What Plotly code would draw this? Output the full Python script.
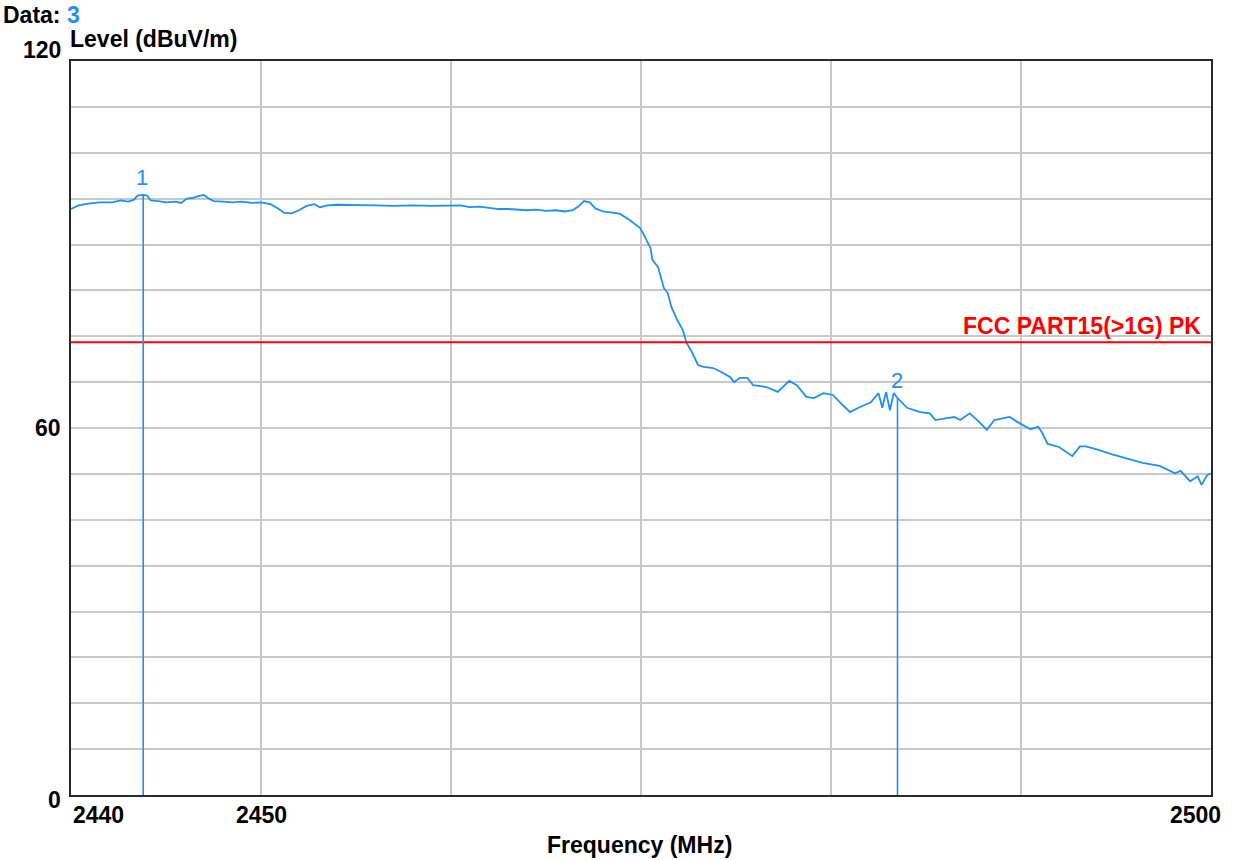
import plotly.graph_objects as go

# Measured spectrum (MHz, dBuV/m)
freq_mhz = [
    2440.0, 2440.4, 2440.9, 2441.5, 2442.2, 2442.6, 2443.0, 2443.3, 2443.5, 2443.8,
    2444.0, 2444.2, 2444.6, 2445.0, 2445.5, 2445.8, 2446.1, 2446.4, 2446.7, 2447.0,
    2447.2, 2447.5, 2448.0, 2448.5, 2449.0, 2449.5, 2450.0, 2450.5, 2450.9, 2451.2,
    2451.6, 2452.0, 2452.4, 2452.8, 2453.1, 2453.5, 2454.0, 2455.0, 2456.0, 2457.0,
    2458.0, 2459.0, 2460.0, 2460.5, 2461.0, 2461.5, 2462.0, 2462.5, 2463.0, 2463.5,
    2464.0, 2464.5, 2465.0, 2465.5, 2466.0, 2466.4, 2466.7, 2467.0, 2467.3, 2467.6,
    2468.0, 2468.5, 2468.9, 2469.4, 2469.95, 2470.1, 2470.5, 2470.6, 2470.9, 2471.2,
    2471.4, 2471.6, 2471.9, 2472.2, 2472.4, 2472.7, 2473.0, 2473.3, 2473.8, 2474.2,
    2474.5, 2474.7, 2474.9, 2475.2, 2475.6, 2475.9, 2476.6, 2477.2, 2477.8, 2478.2,
    2478.7, 2479.1, 2479.6, 2480.1, 2480.6, 2481.0, 2481.5, 2482.1, 2482.5, 2482.7,
    2482.9, 2483.1, 2483.3, 2483.5, 2484.0, 2484.7, 2485.2, 2485.5, 2486.1, 2486.5,
    2486.8, 2487.3, 2487.7, 2488.2, 2488.6, 2489.4, 2489.8, 2490.5, 2490.9, 2491.1,
    2491.4, 2492.0, 2492.7, 2493.1, 2493.4, 2493.9, 2494.8, 2495.7, 2496.4, 2497.3,
    2498.1, 2498.4, 2498.9, 2499.3, 2499.5, 2499.8, 2500.0,
]
level_dbuv = [
    95.8, 96.4, 96.7, 96.9, 96.9, 97.2, 97.0, 97.3, 98.0, 98.1,
    98.0, 97.2, 97.1, 96.9, 97.0, 96.8, 97.5, 97.6, 97.9, 98.1,
    97.6, 97.1, 97.0, 96.9, 97.0, 96.8, 96.9, 96.6, 95.9, 95.2,
    95.1, 95.6, 96.3, 96.6, 96.1, 96.4, 96.5, 96.5, 96.4, 96.3,
    96.4, 96.3, 96.3, 96.4, 96.1, 96.2, 96.0, 95.8, 95.8, 95.7,
    95.6, 95.7, 95.5, 95.6, 95.4, 95.6, 96.2, 97.1, 96.9, 95.9,
    95.4, 95.2, 95.0, 94.0, 92.7, 91.9, 89.4, 87.5, 86.3, 82.9,
    82.1, 79.8, 77.7, 76.0, 73.9, 72.3, 70.3, 70.0, 69.8, 69.2,
    68.7, 68.3, 67.5, 68.2, 68.2, 67.0, 66.7, 65.9, 67.7, 67.0,
    65.1, 64.9, 65.7, 65.4, 63.8, 62.6, 63.4, 64.2, 65.7, 63.3,
    65.9, 62.9, 65.7, 64.9, 63.3, 62.6, 62.4, 61.3, 61.6, 61.8,
    61.3, 62.4, 61.3, 59.7, 61.3, 61.8, 61.0, 59.8, 60.2, 59.3,
    57.4, 56.9, 55.4, 57.0, 57.0, 56.6, 55.7, 54.9, 54.3, 53.8,
    52.6, 53.0, 51.3, 52.1, 50.7, 52.3, 52.6,
]

# Limit line
limit_name = "FCC PART15(>1G) PK"
limit_level = 74.0

# Peak markers
marker_ids = ["1", "2"]
marker_freq = [2443.8, 2483.5]
marker_level = [98.1, 64.9]

# Axis labels
x_tick_vals = [2440, 2450, 2500]
y_tick_vals = [0, 60, 120]

TRACE_BLUE = "#1e8fff"
FONT = "Liberation Sans"
TEXT_SIZE = 23

fig = go.Figure()

fig.add_trace(go.Scatter(
    x=freq_mhz, y=level_dbuv, mode="lines",
    line=dict(color=TRACE_BLUE, width=1.8), hoverinfo="skip",
))

fig.add_trace(go.Scatter(
    x=[2440, 2500], y=[limit_level, limit_level], mode="lines",
    line=dict(color="#ff0000", width=2), hoverinfo="skip",
))

for mid, mf, ml in zip(marker_ids, marker_freq, marker_level):
    fig.add_trace(go.Scatter(
        x=[mf, mf], y=[0, ml], mode="lines",
        line=dict(color=TRACE_BLUE, width=1.6), hoverinfo="skip",
    ))
    fig.add_annotation(
        x=mf, y=ml, text=mid, showarrow=False, xanchor="center", yanchor="bottom",
        xshift=-1, yshift=3, font=dict(family=FONT, size=22, color=TRACE_BLUE),
    )

fig.add_annotation(
    x=2500, y=limit_level, text=f"<b>{limit_name}</b>", showarrow=False,
    xanchor="right", yanchor="bottom", xshift=-8, yshift=1,
    font=dict(family=FONT, size=TEXT_SIZE, color="#ff0000"),
)

# Tick labels
bold_font = dict(family=FONT, size=TEXT_SIZE, color="#000000")
x_anchor = {2440: ("left", 0), 2450: ("center", 0), 2500: ("right", 12)}
for v in x_tick_vals:
    anc, sh = x_anchor[v]
    fig.add_annotation(
        x=v, y=0, yref="y", text=f"<b>{v}</b>", showarrow=False,
        xanchor=anc, yanchor="top", xshift=sh, yshift=-5, font=bold_font,
    )
y_shift = {0: -5, 60: 0, 120: 11}
for v in y_tick_vals:
    fig.add_annotation(
        x=0, xref="paper", y=v, text=f"<b>{v}</b>", showarrow=False,
        xanchor="right", yanchor="middle", xshift=-8, yshift=y_shift[v], font=bold_font,
    )

# Titles
fig.add_annotation(
    x=0, xref="paper", y=1, yref="paper", text="<b>Level (dBuV/m)</b>",
    showarrow=False, xanchor="left", yanchor="bottom", xshift=-3, yshift=7,
    font=bold_font,
)
fig.add_annotation(
    x=0, xref="paper", y=1, yref="paper",
    text=f"<b>Data: <span style='color:{TRACE_BLUE}'>3</span></b>",
    showarrow=False, xanchor="left", yanchor="bottom", xshift=-70, yshift=31,
    font=bold_font,
)
fig.add_annotation(
    x=0.5, xref="paper", y=0, yref="paper", text="<b>Frequency (MHz)</b>",
    showarrow=False, xanchor="center", yanchor="top", xshift=-2, yshift=-35,
    font=bold_font,
)

axis_common = dict(
    showgrid=True, gridcolor="#c8c8c8", gridwidth=2,
    showline=True, linecolor="#2a2a2a", linewidth=2, mirror=True,
    zeroline=False, showticklabels=False, ticks="",
)
fig.update_xaxes(range=[2440, 2500], dtick=10, tick0=2440, **axis_common)
fig.update_yaxes(range=[0, 120], dtick=7.5, tick0=0, **axis_common)

fig.update_layout(
    width=1238, height=860,
    margin=dict(l=71, r=27, t=61, b=65),
    paper_bgcolor="#ffffff", plot_bgcolor="#ffffff",
    showlegend=False,
)

fig.write_html("out.html")
